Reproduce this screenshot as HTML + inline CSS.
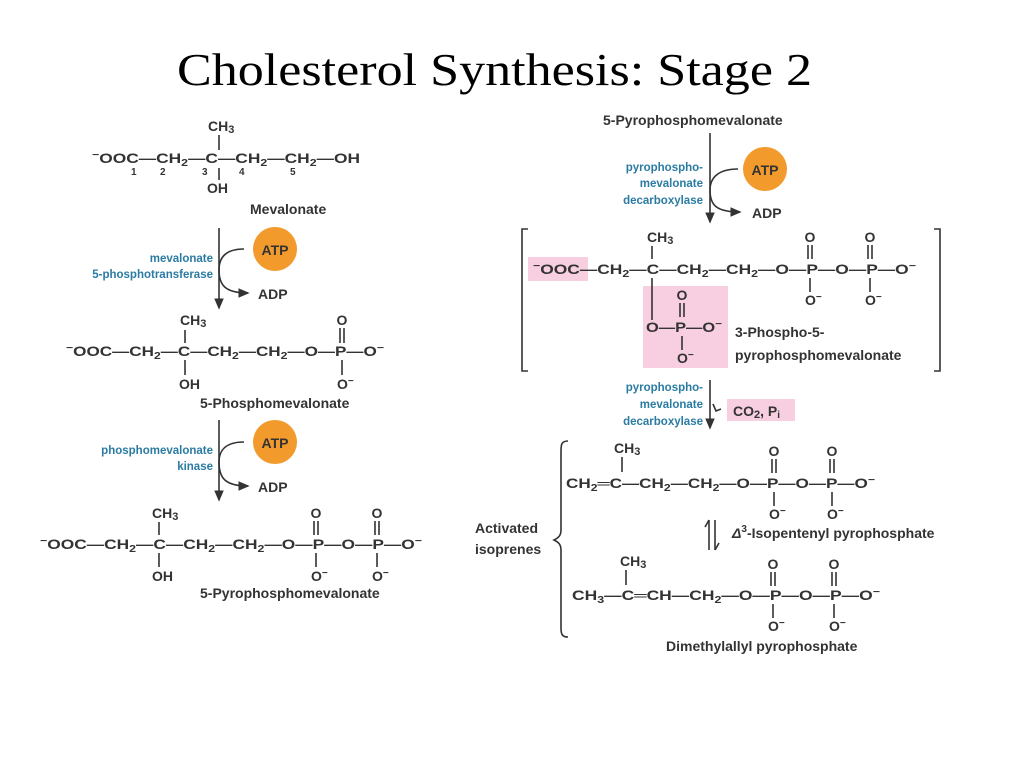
<!DOCTYPE html>
<html><head><meta charset="utf-8"><style>
html,body{margin:0;padding:0;background:#fff;width:1024px;height:768px;overflow:hidden}
svg{display:block}
.c{font-family:"Liberation Sans",sans-serif;font-weight:bold;font-size:14px;fill:#333}
.n{font-family:"Liberation Sans",sans-serif;font-weight:bold;font-size:10px;fill:#333}
.nm{font-family:"Liberation Sans",sans-serif;font-weight:bold;font-size:14px;fill:#333}
.b{font-family:"Liberation Sans",sans-serif;font-weight:bold;font-size:11.5px;fill:#2b7ba3}
.l{stroke:#333;stroke-width:1.6;fill:none}
</style></head><body>
<svg width="1024" height="768" viewBox="0 0 1024 768">
<defs><marker id="a" markerWidth="8" markerHeight="8" refX="6" refY="4" orient="auto"><path d="M0,1 L7,4 L0,7 z" fill="#333"/></marker></defs>
<text x="177" y="85" style="font-family:'Liberation Serif',serif;font-size:46px;fill:#000" textLength="635" lengthAdjust="spacingAndGlyphs">Cholesterol Synthesis:  Stage 2</text>

<!-- Mevalonate -->
<text class="c" x="208" y="131">CH<tspan font-size="11" dy="2">3</tspan></text>
<line class="l" x1="219" y1="135" x2="219" y2="150"/>
<text class="c" x="92" y="163" textLength="268" lengthAdjust="spacingAndGlyphs"><tspan font-size="10" dy="-5">−</tspan><tspan dy="5">OOC—CH</tspan><tspan font-size="10" dy="3">2</tspan><tspan dy="-3">—C—CH</tspan><tspan font-size="10" dy="3">2</tspan><tspan dy="-3">—CH</tspan><tspan font-size="10" dy="3">2</tspan><tspan dy="-3">—OH</tspan></text>
<line class="l" x1="219" y1="168" x2="219" y2="180"/>
<text class="n" x="131" y="175">1</text><text class="n" x="160" y="175">2</text><text class="n" x="202" y="175">3</text><text class="n" x="239" y="175">4</text><text class="n" x="290" y="175">5</text>
<text class="c" x="207" y="193">OH</text>
<text class="nm" x="250" y="214">Mevalonate</text>
<line class="l" x1="219" y1="228" x2="219" y2="308" marker-end="url(#a)"/>
<path class="l" d="M244,249 C225,249 219,258 219,270 C219,285 225,293 248,293" marker-end="url(#a)"/>
<circle cx="275" cy="249" r="22" fill="#f39a2c"/>
<text class="c" x="275" y="255" text-anchor="middle">ATP</text>
<text class="c" x="258" y="299">ADP</text>
<text class="b" x="213" y="262" text-anchor="end">mevalonate</text>
<text class="b" x="213" y="278" text-anchor="end">5-phosphotransferase</text>

<!-- 5-Phosphomevalonate -->
<text class="c" x="180" y="325">CH<tspan font-size="11" dy="2">3</tspan></text>
<line class="l" x1="185" y1="330" x2="185" y2="343"/>
<text class="c" x="342" y="325" text-anchor="middle">O</text>
<line class="l" x1="340" y1="328" x2="340" y2="343"/><line class="l" x1="344" y1="328" x2="344" y2="343"/>
<text class="c" x="66" y="356" textLength="318" lengthAdjust="spacingAndGlyphs"><tspan font-size="10" dy="-5">−</tspan><tspan dy="5">OOC—CH</tspan><tspan font-size="10" dy="3">2</tspan><tspan dy="-3">—C—CH</tspan><tspan font-size="10" dy="3">2</tspan><tspan dy="-3">—CH</tspan><tspan font-size="10" dy="3">2</tspan><tspan dy="-3">—O—P—O</tspan><tspan font-size="10" dy="-5">−</tspan></text>
<line class="l" x1="185" y1="360" x2="185" y2="375"/>
<line class="l" x1="342" y1="360" x2="342" y2="375"/>
<text class="c" x="179" y="389">OH</text>
<text class="c" x="337" y="389">O<tspan font-size="10" dy="-5">−</tspan></text>
<text class="nm" x="200" y="408">5-Phosphomevalonate</text>
<line class="l" x1="219" y1="420" x2="219" y2="500" marker-end="url(#a)"/>
<path class="l" d="M244,442 C225,442 219,451 219,462 C219,478 225,486 248,486" marker-end="url(#a)"/>
<circle cx="275" cy="442" r="22" fill="#f39a2c"/>
<text class="c" x="275" y="448" text-anchor="middle">ATP</text>
<text class="c" x="258" y="492">ADP</text>
<text class="b" x="213" y="454" text-anchor="end">phosphomevalonate</text>
<text class="b" x="213" y="470" text-anchor="end">kinase</text>

<!-- 5-Pyrophosphomevalonate left -->
<text class="c" x="152" y="518">CH<tspan font-size="11" dy="2">3</tspan></text>
<line class="l" x1="159" y1="522" x2="159" y2="535"/>
<text class="c" x="316" y="518" text-anchor="middle">O</text>
<line class="l" x1="314" y1="521" x2="314" y2="535"/><line class="l" x1="318" y1="521" x2="318" y2="535"/>
<text class="c" x="377" y="518" text-anchor="middle">O</text>
<line class="l" x1="375" y1="521" x2="375" y2="535"/><line class="l" x1="379" y1="521" x2="379" y2="535"/>
<text class="c" x="40" y="549" textLength="382" lengthAdjust="spacingAndGlyphs"><tspan font-size="10" dy="-5">−</tspan><tspan dy="5">OOC—CH</tspan><tspan font-size="10" dy="3">2</tspan><tspan dy="-3">—C—CH</tspan><tspan font-size="10" dy="3">2</tspan><tspan dy="-3">—CH</tspan><tspan font-size="10" dy="3">2</tspan><tspan dy="-3">—O—P—O—P—O</tspan><tspan font-size="10" dy="-5">−</tspan></text>
<line class="l" x1="159" y1="553" x2="159" y2="567"/>
<line class="l" x1="316" y1="553" x2="316" y2="567"/>
<line class="l" x1="377" y1="553" x2="377" y2="567"/>
<text class="c" x="152" y="581">OH</text>
<text class="c" x="311" y="581">O<tspan font-size="10" dy="-5">−</tspan></text><text class="c" x="372" y="581">O<tspan font-size="10" dy="-5">−</tspan></text>
<text class="nm" x="200" y="598">5-Pyrophosphomevalonate</text>

<!-- Right top -->
<text class="nm" x="603" y="125">5-Pyrophosphomevalonate</text>
<line class="l" x1="710" y1="133" x2="710" y2="222" marker-end="url(#a)"/>
<path class="l" d="M738,169 C718,169 710,178 710,190 C710,205 716,212 740,212" marker-end="url(#a)"/>
<circle cx="765" cy="169" r="22" fill="#f39a2c"/>
<text class="c" x="765" y="175" text-anchor="middle">ATP</text>
<text class="c" x="752" y="218">ADP</text>
<text class="b" x="703" y="171" text-anchor="end">pyrophospho-</text>
<text class="b" x="703" y="187" text-anchor="end">mevalonate</text>
<text class="b" x="703" y="204" text-anchor="end">decarboxylase</text>

<path class="l" d="M528,229 L522,229 L522,371 L528,371"/>
<path class="l" d="M934,229 L940,229 L940,371 L934,371"/>
<rect x="528" y="257" width="60" height="24" fill="#f7cfe0"/>
<rect x="643" y="286" width="85" height="82" fill="#f7cfe0"/>
<text class="c" x="647" y="242">CH<tspan font-size="11" dy="2">3</tspan></text>
<line class="l" x1="652" y1="246" x2="652" y2="259"/>
<text class="c" x="810" y="242" text-anchor="middle">O</text>
<line class="l" x1="808" y1="245" x2="808" y2="259"/><line class="l" x1="812" y1="245" x2="812" y2="259"/>
<text class="c" x="870" y="242" text-anchor="middle">O</text>
<line class="l" x1="868" y1="245" x2="868" y2="259"/><line class="l" x1="872" y1="245" x2="872" y2="259"/>
<text class="c" x="533" y="274" textLength="383" lengthAdjust="spacingAndGlyphs"><tspan font-size="10" dy="-5">−</tspan><tspan dy="5">OOC—CH</tspan><tspan font-size="10" dy="3">2</tspan><tspan dy="-3">—C—CH</tspan><tspan font-size="10" dy="3">2</tspan><tspan dy="-3">—CH</tspan><tspan font-size="10" dy="3">2</tspan><tspan dy="-3">—O—P—O—P—O</tspan><tspan font-size="10" dy="-5">−</tspan></text>
<line class="l" x1="810" y1="278" x2="810" y2="292"/><line class="l" x1="870" y1="278" x2="870" y2="292"/>
<text class="c" x="805" y="305">O<tspan font-size="10" dy="-5">−</tspan></text><text class="c" x="865" y="305">O<tspan font-size="10" dy="-5">−</tspan></text>
<line class="l" x1="652" y1="278" x2="652" y2="320"/>
<text class="c" x="682" y="300" text-anchor="middle">O</text>
<line class="l" x1="680" y1="303" x2="680" y2="317"/><line class="l" x1="684" y1="303" x2="684" y2="317"/>
<text class="c" x="646" y="332" textLength="76" lengthAdjust="spacingAndGlyphs">O—P—O<tspan font-size="10" dy="-5">−</tspan></text>
<line class="l" x1="682" y1="336" x2="682" y2="350"/>
<text class="c" x="677" y="363">O<tspan font-size="10" dy="-5">−</tspan></text>
<text class="nm" x="735" y="337">3-Phospho-5-</text>
<text class="nm" x="735" y="360">pyrophosphomevalonate</text>

<line class="l" x1="710" y1="380" x2="710" y2="428" marker-end="url(#a)"/>
<path class="l" d="M713,404 L716,411 L721,409" />
<text class="b" x="703" y="391" text-anchor="end">pyrophospho-</text>
<text class="b" x="703" y="408" text-anchor="end">mevalonate</text>
<text class="b" x="703" y="425" text-anchor="end">decarboxylase</text>
<rect x="727" y="399" width="68" height="22" fill="#f7cfe0"/>
<text class="c" x="733" y="416">CO<tspan font-size="11" dy="2">2</tspan><tspan dy="-2">, P</tspan><tspan font-size="10" dy="2">i</tspan></text>

<path class="l" d="M568,441 C561,441 561,445 561,452 L561,530 C561,536 558,538 554,540 C558,542 561,544 561,550 L561,628 C561,634 562,637 568,637"/>
<text class="nm" x="475" y="533">Activated</text>
<text class="nm" x="475" y="554">isoprenes</text>

<text class="c" x="614" y="453">CH<tspan font-size="11" dy="2">3</tspan></text>
<line class="l" x1="622" y1="457" x2="622" y2="472"/>
<text class="c" x="774" y="456" text-anchor="middle">O</text>
<line class="l" x1="772" y1="459" x2="772" y2="473"/><line class="l" x1="776" y1="459" x2="776" y2="473"/>
<text class="c" x="832" y="456" text-anchor="middle">O</text>
<line class="l" x1="830" y1="459" x2="830" y2="473"/><line class="l" x1="834" y1="459" x2="834" y2="473"/>
<text class="c" x="566" y="488" textLength="309" lengthAdjust="spacingAndGlyphs">CH<tspan font-size="10" dy="3">2</tspan><tspan dy="-3">═C—CH</tspan><tspan font-size="10" dy="3">2</tspan><tspan dy="-3">—CH</tspan><tspan font-size="10" dy="3">2</tspan><tspan dy="-3">—O—P—O—P—O</tspan><tspan font-size="10" dy="-5">−</tspan></text>
<line class="l" x1="774" y1="492" x2="774" y2="506"/><line class="l" x1="832" y1="492" x2="832" y2="506"/>
<text class="c" x="769" y="519">O<tspan font-size="10" dy="-5">−</tspan></text><text class="c" x="827" y="519">O<tspan font-size="10" dy="-5">−</tspan></text>

<line class="l" x1="709" y1="550" x2="709" y2="520"/><path class="l" d="M709,520 L705,527"/>
<line class="l" x1="715" y1="520" x2="715" y2="550"/><path class="l" d="M715,550 L719,543"/>
<text class="nm" x="732" y="538"><tspan font-style="italic">Δ</tspan><tspan font-size="10" dy="-6">3</tspan><tspan dy="6">-Isopentenyl pyrophosphate</tspan></text>

<text class="c" x="620" y="566">CH<tspan font-size="11" dy="2">3</tspan></text>
<line class="l" x1="626" y1="570" x2="626" y2="585"/>
<text class="c" x="773" y="569" text-anchor="middle">O</text>
<line class="l" x1="771" y1="572" x2="771" y2="586"/><line class="l" x1="775" y1="572" x2="775" y2="586"/>
<text class="c" x="834" y="569" text-anchor="middle">O</text>
<line class="l" x1="832" y1="572" x2="832" y2="586"/><line class="l" x1="836" y1="572" x2="836" y2="586"/>
<text class="c" x="572" y="600" textLength="308" lengthAdjust="spacingAndGlyphs">CH<tspan font-size="10" dy="3">3</tspan><tspan dy="-3">—C═CH—CH</tspan><tspan font-size="10" dy="3">2</tspan><tspan dy="-3">—O—P—O—P—O</tspan><tspan font-size="10" dy="-5">−</tspan></text>
<line class="l" x1="773" y1="604" x2="773" y2="618"/><line class="l" x1="834" y1="604" x2="834" y2="618"/>
<text class="c" x="768" y="631">O<tspan font-size="10" dy="-5">−</tspan></text><text class="c" x="829" y="631">O<tspan font-size="10" dy="-5">−</tspan></text>
<text class="nm" x="666" y="651">Dimethylallyl pyrophosphate</text>
</svg>
</body></html>
